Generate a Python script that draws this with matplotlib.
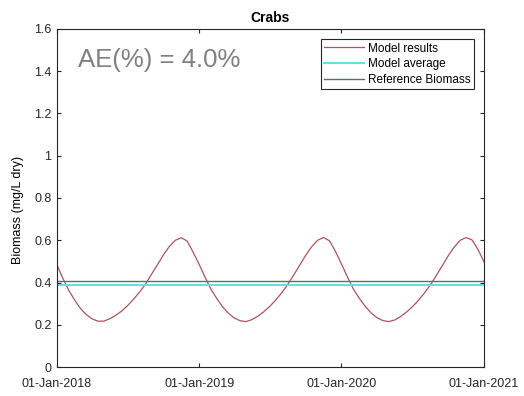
import datetime as dt
import matplotlib
matplotlib.use("Agg")
import matplotlib.pyplot as plt
import matplotlib.dates as mdates

plt.rcParams['font.family'] = ['Liberation Sans', 'DejaVu Sans']

# Semi-monthly model output (mg/L dry), 2018-2020 plus 01-Jan-2021
years = [2018, 2019, 2020]
biomass_2018 = [0.483, 0.420, 0.360, 0.315, 0.280, 0.250, 0.228, 0.217,
                0.217, 0.228, 0.245, 0.265, 0.290, 0.320, 0.355, 0.392,
                0.440, 0.485, 0.530, 0.570, 0.600, 0.612, 0.596, 0.545]
biomass_2019 = [0.485, 0.425, 0.365, 0.322, 0.287, 0.256, 0.232, 0.219,
                0.215, 0.224, 0.241, 0.262, 0.287, 0.316, 0.352, 0.390,
                0.437, 0.482, 0.528, 0.568, 0.600, 0.613, 0.598, 0.550]
biomass_2020 = [0.488, 0.428, 0.368, 0.325, 0.290, 0.258, 0.234, 0.220,
                0.215, 0.222, 0.239, 0.260, 0.285, 0.314, 0.350, 0.388,
                0.435, 0.480, 0.526, 0.567, 0.600, 0.613, 0.602, 0.558]
biomass_end = 0.498

model_average = 0.390
reference_biomass = 0.405
ae_percent = 4.0

dates = []
values = []
for yr, series in zip(years, [biomass_2018, biomass_2019, biomass_2020]):
    for i, v in enumerate(series):
        month = i // 2 + 1
        day = 1 if i % 2 == 0 else 16
        dates.append(dt.datetime(yr, month, day))
        values.append(v)
dates.append(dt.datetime(2021, 1, 1))
values.append(biomass_end)

fig = plt.figure(figsize=(5.24, 3.96), dpi=100)
ax = fig.add_axes([0.1088, 0.0732, 0.8149, 0.8536])

start, end = dt.datetime(2018, 1, 1), dt.datetime(2021, 1, 1)
ax.plot(dates, values, color='#aa5560', linewidth=0.9, label='Model results')
ax.plot([start, end], [model_average, model_average], color='#5fe0e0',
        linewidth=1.4, label='Model average')
ax.plot([start, end], [reference_biomass, reference_biomass], color='#5a6e6e',
        linewidth=1.0, label='Reference Biomass')

ax.set_xlim(start, end)
ax.set_ylim(0, 1.6)
ax.set_yticks([0, 0.2, 0.4, 0.6, 0.8, 1.0, 1.2, 1.4, 1.6])
ax.set_yticklabels(['0', '0.2', '0.4', '0.6', '0.8', '1', '1.2', '1.4', '1.6'])
ax.xaxis.set_major_locator(mdates.YearLocator())
ax.xaxis.set_major_formatter(mdates.DateFormatter('%d-%b-%Y'))

ax.tick_params(direction='in', length=3, width=0.8, colors='#262626',
               labelsize=9, top=True, right=True, pad=4)
ax.tick_params(axis='x', pad=8)
for s in ax.spines.values():
    s.set_color('#262626')
    s.set_linewidth(0.8)

ax.set_title('Crabs', fontsize=10, fontweight='bold', pad=5)
ax.set_ylabel('Biomass (mg/L dry)', fontsize=9, labelpad=7)
ax.yaxis.label.set_y(0.464)

ax.text(0.05, 0.945, f'AE(%) = {ae_percent:.1f}%', transform=ax.transAxes,
        fontsize=18.5, color='#808080', va='top', ha='left')

leg = ax.legend(loc='upper right', fontsize=8.5, fancybox=False,
                framealpha=1, edgecolor='#262626', borderaxespad=0.85,
                handlelength=3.4, handletextpad=0.3, labelspacing=0.3,
                borderpad=0.3)
leg.get_frame().set_linewidth(0.8)

fig.savefig('out.png', dpi=100)
